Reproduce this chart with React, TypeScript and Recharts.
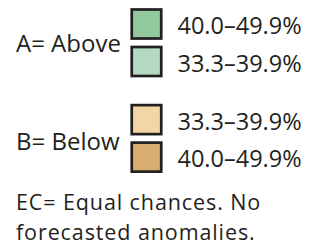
import { ScatterChart, Scatter, XAxis, YAxis } from 'recharts';

// legend rows: value ranges, swatch fill, row position
const rangeLabels = ['40.0–49.9%', '33.3–39.9%', '33.3–39.9%', '40.0–49.9%'];
const swatchColors = ['#92ca9b', '#b4d9c1', '#f2d6a5', '#d8ad6f'];
const swatchRows = [0, 1, 2.55, 3.55];

const groupLabels = ['A= Above', 'B= Below'];
const groupRows = [0.48, 3.11];

const noteLines = ['EC= Equal chances. No', 'forecasted anomalies.'];
const noteRows = [4.73, 5.53];

const FONT = '"Open Sans", sans-serif';
const TEXT = '#231f20';

const swatchData = rangeLabels.map((label, i) => ({ col: 1, row: swatchRows[i], label, color: swatchColors[i] }));
const groupData = groupLabels.map((label, i) => ({ col: 0, row: groupRows[i], label }));
const noteData = noteLines.map((label, i) => ({ col: 0, row: noteRows[i], label }));

const Swatch = (props: any) => {
  const { cx, cy, payload } = props;
  return (
    <g>
      <rect x={cx - 14.75} y={cy - 14.5} width={29.5} height={29} fill={payload.color} stroke={TEXT} strokeWidth={2.7} />
      <text x={cx + 31} y={cy + 1} dominantBaseline="central" fontFamily={FONT} fontSize={23.5} fill={TEXT}>
        {payload.label}
      </text>
    </g>
  );
};

const makeLabel = (size: number, spacing: number) => (props: any) => {
  const { cx, cy, payload } = props;
  return (
    <text x={cx} y={cy} dominantBaseline="central" fontFamily={FONT} fontSize={size} letterSpacing={spacing} fill={TEXT}>
      {payload.label}
    </text>
  );
};

const GroupLabel = makeLabel(24, 0);
const NoteLabel = makeLabel(21.5, 0.9);

export default function App() {
  return (
    <div style={{ position: 'absolute', left: 0, top: 0, background: '#fff' }}>
      <ScatterChart width={322} height={243} margin={{ top: 0, right: 0, bottom: 0, left: 0 }}>
        <XAxis type="number" dataKey="col" domain={[-0.1226, 2.345]} hide />
        <YAxis type="number" dataKey="row" domain={[-0.64, 5.84]} reversed hide />
        <Scatter data={swatchData} shape={Swatch} isAnimationActive={false} />
        <Scatter data={groupData} shape={GroupLabel} isAnimationActive={false} />
        <Scatter data={noteData} shape={NoteLabel} isAnimationActive={false} />
      </ScatterChart>
    </div>
  );
}
